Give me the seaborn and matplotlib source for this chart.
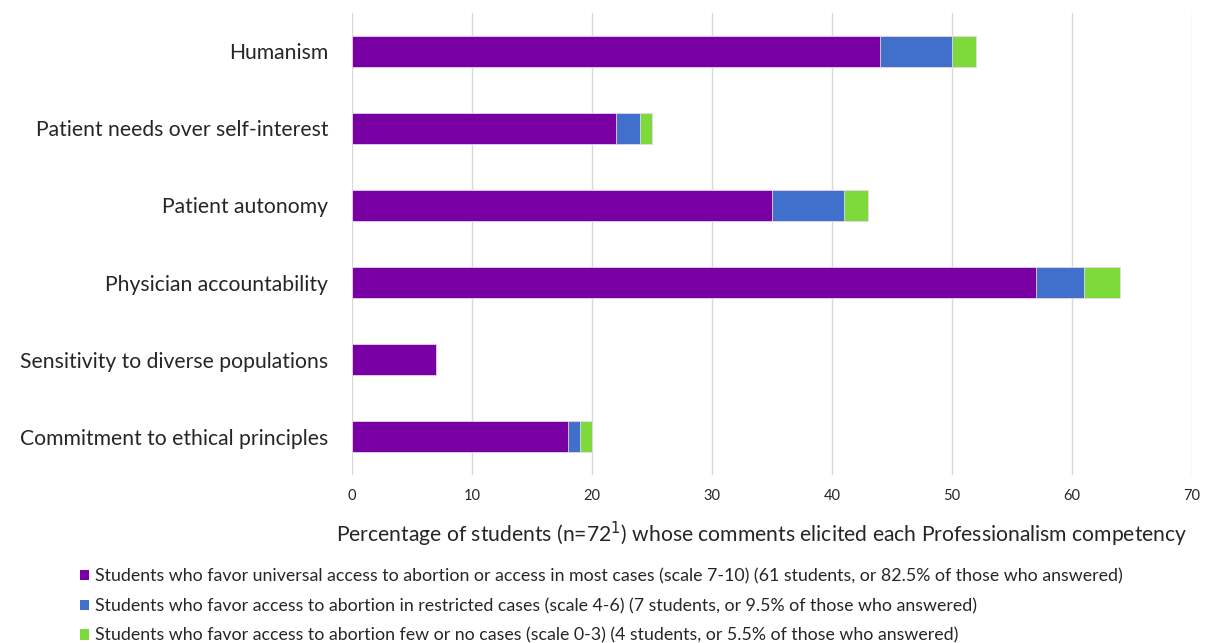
import pandas as pd
import numpy as np
import matplotlib.pyplot as plt
import seaborn as sns
from matplotlib.patches import Patch

competencies = ['Humanism', 'Patient needs over self-interest', 'Patient autonomy',
                'Physician accountability', 'Sensitivity to diverse populations',
                'Commitment to ethical principles']
favor_universal = [44, 22, 35, 57, 7, 18]
favor_restricted = [6, 2, 6, 4, 0, 1]
favor_few = [2, 1, 2, 3, 0, 1]
ticks = [0, 10, 20, 30, 40, 50, 60, 70]

legend_labels = [
    'Students who favor universal access to abortion or access in most cases (scale 7-10) (61 students, or 82.5% of those who answered)',
    'Students who favor access to abortion in restricted cases (scale 4-6) (7 students, or 9.5% of those who answered)',
    'Students who favor access to abortion few or no cases (scale 0-3) (4 students, or 5.5% of those who answered)',
]
colors = ['#7800A3', '#416FCC', '#7ED93A']

df = pd.DataFrame({'competency': competencies,
                   'universal': favor_universal,
                   'restricted': favor_restricted,
                   'few': favor_few})
# cumulative ends for stacking
df['c1'] = df['universal']
df['c2'] = df['c1'] + df['restricted']
df['c3'] = df['c2'] + df['few']

sns.set_style('white')
plt.rcParams['font.family'] = ['Lato', 'DejaVu Sans']

fig = plt.figure(figsize=(12.09, 6.43), dpi=100)
ax = fig.add_axes([0.291, 0.261, 0.695, 0.719])

# draw widest layer first so the narrower ones sit on top
for col, c in zip(['c3', 'c2', 'c1'], colors[::-1]):
    sns.barplot(data=df, x=col, y='competency', color=c, width=0.4,
                edgecolor='#E8D8F0', linewidth=0.6, saturation=1, ax=ax, zorder=3)

ax.set_xlim(0, 70)
ax.set_ylim(5.5, -0.5)
ax.set_xticks(ticks)
ax.set_xticklabels([str(t) for t in ticks], fontsize=10.5)
ax.tick_params(axis='y', labelsize=15.2, length=0, pad=17)
ax.tick_params(axis='x', length=0, pad=10)
ax.grid(axis='x', color='#D9D9D9', linewidth=1, zorder=0)
for s in ax.spines.values():
    s.set_visible(False)
ax.set_ylabel('')
ax.set_xlabel(r'Percentage of students (n=72$^{1}$) whose comments elicited each Professionalism competency',
              fontsize=15.2, labelpad=12)
ax.xaxis.label.set_x(0.488)

handles = [Patch(facecolor=c, edgecolor='none') for c in colors]
fig.legend(handles, legend_labels, loc='upper left', bbox_to_anchor=(0.066, 0.116),
           frameon=False, fontsize=12.8, handlelength=0.5, handleheight=0.5,
           handletextpad=0.35, labelspacing=0.76, borderaxespad=0, borderpad=0)

fig.savefig('out.png', dpi=100)
